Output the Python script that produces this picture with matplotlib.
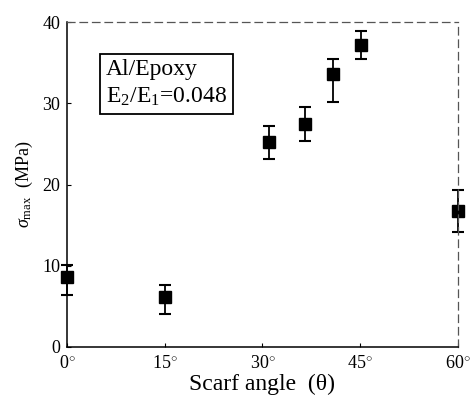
import matplotlib
matplotlib.use("Agg")
import matplotlib.pyplot as plt

plt.rcParams['font.family'] = ['Liberation Serif', 'DejaVu Serif']
plt.rcParams['mathtext.fontset'] = 'custom'
plt.rcParams['mathtext.rm'] = 'Liberation Serif'
plt.rcParams['mathtext.it'] = 'Liberation Serif:italic'

# scarf angle (deg), strength (MPa), error bar limits
angles = [0, 15, 31, 36.5, 40.8, 45.2, 60]
sigma = [8.6, 6.2, 25.2, 27.5, 33.6, 37.2, 16.8]
upper = [10.1, 7.6, 27.2, 29.6, 35.5, 38.9, 19.3]
lower = [6.4, 4.1, 23.1, 25.3, 30.1, 35.5, 14.2]

err_low = [s - l for s, l in zip(sigma, lower)]
err_high = [u - s for s, u in zip(sigma, upper)]

xticks = [0, 15, 30, 45, 60]
xlabels = ["0$^{\\circ}$", "15$^{\\circ}$", "30$^{\\circ}$", "45$^{\\circ}$", "60$^{\\circ}$"]
yticks = [0, 10, 20, 30, 40]

fig = plt.figure(figsize=(4.7, 4.01), dpi=100)
ax = fig.add_axes([0.1426, 0.1347, 0.8314, 0.8103])

ax.errorbar(angles, sigma, yerr=[err_low, err_high], fmt='s', color='black',
            markersize=8, capsize=4, elinewidth=1.3, capthick=1.5, clip_on=False)

ax.set_xlim(0, 60)
ax.set_ylim(0, 40)
ax.set_xticks(xticks)
ax.set_xticklabels(xlabels)
ax.set_yticks(yticks)
ax.tick_params(direction='in', length=3, labelsize=13)
ax.tick_params(axis='x', pad=6)
ax.tick_params(axis='y', pad=5)

for side in ['left', 'bottom']:
    ax.spines[side].set_linewidth(1.1)
for side in ['top', 'right']:
    ax.spines[side].set_linestyle((0, (6, 4)))
    ax.spines[side].set_color('#555555')
    ax.spines[side].set_linewidth(0.9)

ax.set_xlabel("Scarf angle  (\u03b8)", fontsize=17, labelpad=1)
ax.set_ylabel(r"$\sigma_{\rm max}$  (MPa)", fontsize=13, labelpad=5)

ax.text(0.1, 0.885, "Al/Epoxy\nE$_2$/E$_1$=0.048", transform=ax.transAxes,
        fontsize=17, va='top', ha='left', linespacing=1.3,
        bbox=dict(boxstyle='square,pad=0.25', facecolor='white', edgecolor='black', linewidth=1.3))

fig.savefig("out.png", dpi=100)
